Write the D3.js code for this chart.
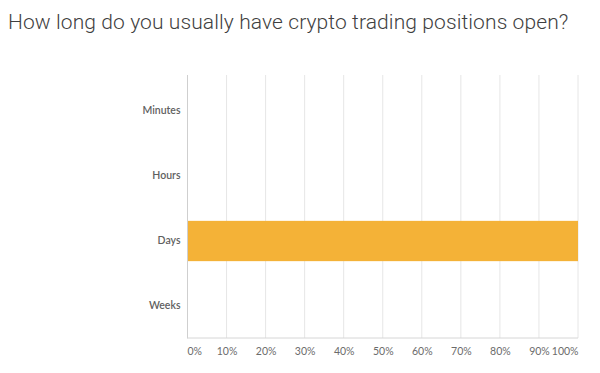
<!DOCTYPE html>
<html><head><meta charset="utf-8">
<script src="https://cdn.jsdelivr.net/npm/d3@7"></script>
<style>body{margin:0;background:#fff;} svg{display:block;}</style>
</head><body>
<svg id="c" width="600" height="373"></svg>
<script>
const title = "How long do you usually have crypto trading positions open?";
const categories = ["Minutes", "Hours", "Days", "Weeks"];
const values = [0, 0, 100, 0];
const tickValues = [0, 10, 20, 30, 40, 50, 60, 70, 80, 90, 100];

const svg = d3.select("#c");
const W = 600, H = 373;
const m = {left: 187.5, right: 22, top: 75, bottom: 35};

svg.append("text").attr("x", 8).attr("y", 29)
  .attr("font-family", "Roboto, 'Noto Sans', sans-serif").attr("font-weight", 300)
  .attr("font-size", 21).attr("letter-spacing", 0.1).attr("fill", "#3f3f3f").text(title);

const x = d3.scaleLinear().domain([0, 100]).range([m.left, W - m.right]);
const y = d3.scaleBand().domain(categories).range([78.5, 338.5]).paddingInner(0.38).paddingOuter(0.19);

// gridlines
svg.append("g").selectAll("line").data(tickValues.slice(1)).join("line")
  .attr("x1", d => x(d)).attr("x2", d => x(d)).attr("y1", m.top).attr("y2", 338)
  .attr("stroke", "#e6e6e6").attr("stroke-width", 1);

// bars
svg.append("g").selectAll("rect").data(categories).join("rect")
  .attr("x", x(0)).attr("y", d => y(d))
  .attr("width", (d, i) => x(values[i]) - x(0)).attr("height", y.bandwidth())
  .attr("fill", "#f4b237");

// axes lines
svg.append("line").attr("x1", x(0)).attr("x2", x(0)).attr("y1", m.top).attr("y2", 338.5)
  .attr("stroke", "#cfcfcf");
svg.append("line").attr("x1", x(0)).attr("x2", x(100)).attr("y1", 338).attr("y2", 338)
  .attr("stroke", "#d6d6d6");

// x axis labels
const xAxis = d3.axisBottom(x).tickValues(tickValues).tickFormat(d => d + "%").tickSize(0).tickPadding(0);
const gx = svg.append("g").attr("transform", "translate(0,348)").call(xAxis);
gx.select(".domain").remove();
gx.selectAll("text").attr("font-family", "Lato, 'Noto Sans', sans-serif").attr("font-size", 10.5)
  .attr("fill", "#6b6b6b").attr("dy", "0.71em")
  .attr("text-anchor", (d, i) => i === 0 ? "start" : (i === tickValues.length - 1 ? "end" : "middle"))
  .attr("dx", (d, i) => i === 0 ? -0.5 : 0);

// y axis labels
const yAxis = d3.axisLeft(y).tickSize(0).tickPadding(7);
const gy = svg.append("g").attr("transform", `translate(${x(0)},0)`).call(yAxis);
gy.select(".domain").remove();
gy.selectAll("text").attr("font-family", "Lato, 'Noto Sans', sans-serif").attr("font-size", 10.5)
  .attr("font-weight", 600).attr("fill", "#5f5f5f");
</script>
</body></html>
